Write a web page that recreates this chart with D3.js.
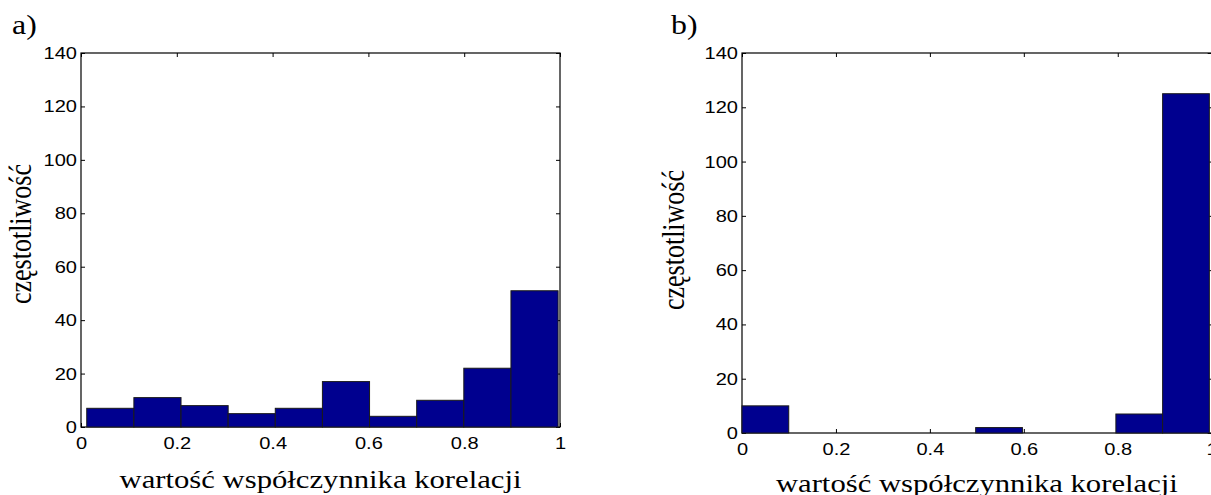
<!DOCTYPE html>
<html>
<head>
<meta charset="utf-8">
<script src="https://cdn.jsdelivr.net/npm/d3@7"></script>
<style>
  body { margin: 0; background: #fff; }
  svg { display: block; }
  .tick text { font-family: "Liberation Sans", Arial, sans-serif; font-size: 17px; fill: #000; }
  .lbl { font-family: "Liberation Serif", "Times New Roman", serif; fill: #000; }
</style>
</head>
<body>
<svg width="1211" height="495"></svg>
<script>
// histogram counts per bin
var countsA = [7, 11, 8, 5, 7, 17, 4, 10, 22, 51];
var countsB = [10, 0, 0, 0, 0, 2, 0, 0, 7, 125];
// data range the bins span (min .. max of the sample)
var rangeA = [0.012, 0.996];
var rangeB = [0, 0.995];

var xTicks = [0, 0.2, 0.4, 0.6, 0.8, 1];
var xTickLabels = ["0", "0.2", "0.4", "0.6", "0.8", "1"];
var yTicks = [0, 20, 40, 60, 80, 100, 120, 140];
var yTickLabels = ["0", "20", "40", "60", "80", "100", "120", "140"];

var xTitle = "wartość współczynnika korelacji";
var yTitle = "częstotliwość";

// the original figure is stretched sideways, text included
var sx = 1.18;

var svg = d3.select("svg");

function panel(p) {
  var w = p.right - p.left, h = p.bottom - p.top;
  var g = svg.append("g").attr("transform", "translate(" + p.left + "," + p.top + ")");

  var x = d3.scaleLinear().domain([0, 1]).range([0, w]);
  var y = d3.scaleLinear().domain([0, 140]).range([h, 0]);

  // frame
  g.append("rect")
      .attr("width", w).attr("height", h)
      .attr("fill", "none").attr("stroke", "#000").attr("stroke-width", 1.2);

  // inward ticks on all four sides, labels only left and bottom
  var ax = function(sel) { sel.select(".domain").remove(); sel.selectAll("line").attr("stroke", "#000"); };
  var bottomAxis = g.append("g").attr("transform", "translate(0," + h + ")")
      .call(d3.axisBottom(x).tickValues(xTicks).tickSize(-4).tickPadding(10)
        .tickFormat(function(d, i) { return xTickLabels[i]; }))
      .call(ax);
  g.append("g")
      .call(d3.axisTop(x).tickValues(xTicks).tickSize(-4).tickFormat(""))
      .call(ax);
  var leftAxis = g.append("g")
      .call(d3.axisLeft(y).tickValues(yTicks).tickSize(-4).tickPadding(4)
        .tickFormat(function(d, i) { return yTickLabels[i]; }))
      .call(ax);
  g.append("g").attr("transform", "translate(" + w + ",0)")
      .call(d3.axisRight(y).tickValues(yTicks).tickSize(-4).tickFormat(""))
      .call(ax);
  g.selectAll(".tick text").attr("fill", "#000").attr("font-size", null).attr("font-family", null);

  // stretch tick labels sideways around their anchor
  bottomAxis.selectAll(".tick text")
      .attr("transform", "scale(" + sx + ",1)");
  leftAxis.selectAll(".tick text")
      .attr("transform", function() { var tx = +d3.select(this).attr("x"); return "translate(" + tx + ",0) scale(" + sx + ",1)"; })
      .attr("x", 0);

  // bars, equal width bins between data min and max
  var step = (p.range[1] - p.range[0]) / p.counts.length;
  g.append("g").selectAll("rect")
    .data(p.counts)
    .enter().append("rect")
      .attr("x", function(d, i) { return x(p.range[0] + i * step); })
      .attr("width", function(d, i) { return x(p.range[0] + (i + 1) * step) - x(p.range[0] + i * step); })
      .attr("y", function(d) { return y(d); })
      .attr("height", function(d) { return y(0) - y(d); })
      .attr("fill", "#00008f")
      .attr("stroke", "#1a1a1a")
      .attr("stroke-width", 1);

  // titles
  svg.append("text").attr("class", "lbl")
      .attr("transform", "translate(" + (p.left + p.right) / 2 + "," + (p.bottom + p.xlabDy) + ") scale(" + sx + ",1)")
      .attr("text-anchor", "middle").attr("font-size", 26)
      .text(xTitle);
  svg.append("text").attr("class", "lbl")
      .attr("transform", "translate(" + p.ylabX + "," + p.ylabY + ") scale(" + sx + ",1) rotate(-90)")
      .attr("text-anchor", "middle").attr("font-size", 26)
      .text(yTitle);
  svg.append("text").attr("class", "lbl")
      .attr("transform", "translate(" + p.tagX + ",34) scale(" + sx + ",1)")
      .attr("font-size", 27)
      .text(p.tag);
}

panel({left: 81, right: 560, top: 53, bottom: 427, counts: countsA, range: rangeA,
       ylabX: 31, ylabY: 234, tag: "a)", tagX: 12, xlabDy: 61});
panel({left: 742, right: 1211.7, top: 53, bottom: 433, counts: countsB, range: rangeB,
       ylabX: 684, ylabY: 240, tag: "b)", tagX: 671, xlabDy: 59});
</script>
</body>
</html>
